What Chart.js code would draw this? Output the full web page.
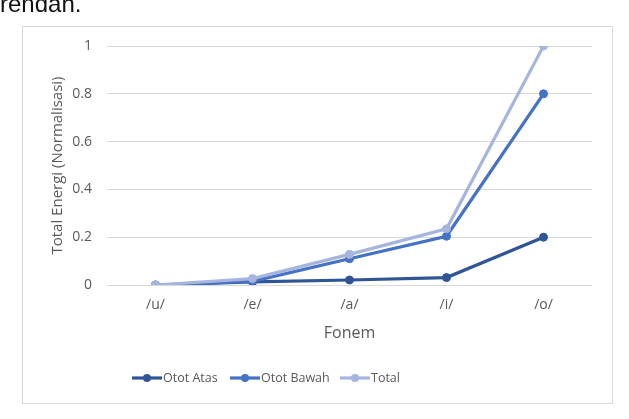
<!DOCTYPE html>
<html>
<head>
<meta charset="utf-8">
<script src="https://cdn.jsdelivr.net/npm/chart.js@4"></script>
<style>
  html, body { margin: 0; padding: 0; background: #fff; overflow: hidden; }
  #wrap { position: relative; width: 629px; height: 419px; }
  #lead { position: absolute; left: 0; top: -8px; font: 24px "Liberation Sans", Arial, sans-serif; line-height: 24px; color: #111; }
  canvas { position: absolute; left: 0; top: 0; }
</style>
</head>
<body>
<div id="wrap">
  <canvas id="c" width="629" height="419"></canvas>
  <div id="lead">rendah.</div>
</div>
<script>
(function() {
  var categories = ['/u/', '/e/', '/a/', '/i/', '/o/'];
  var ototAtas   = [0, 0.013, 0.021, 0.031, 0.2];
  var ototBawah  = [0, 0.015, 0.11, 0.204, 0.8];
  var total      = [0, 0.027, 0.128, 0.235, 1.0];
  var yTicks     = [0, 0.2, 0.4, 0.6, 0.8, 1];

  var colAtas = '#2F5597';
  var colBawah = '#4472C4';
  var colTotal = '#A5B5DE';
  var textColor = '#595959';
  var font = '"Open Sans", "Noto Sans", sans-serif';

  function series(label, data, color, order) {
    return {
      label: label,
      data: data,
      borderColor: color,
      backgroundColor: color,
      pointBackgroundColor: color,
      pointBorderColor: color,
      pointRadius: 4,
      pointBorderWidth: 1,
      borderWidth: 3.2,
      tension: 0,
      fill: false,
      order: order
    };
  }

  new Chart(document.getElementById('c'), {
    type: 'line',
    data: {
      labels: categories,
      datasets: [
        series('Otot Atas', ototAtas, colAtas, 2),
        series('Otot Bawah', ototBawah, colBawah, 1),
        series('Total', total, colTotal, 0)
      ]
    },
    options: {
      responsive: false,
      animation: false,
      layout: { padding: { top: 46, right: 37, bottom: 74, left: 22 } },
      plugins: {
        legend: { display: false },
        tooltip: { enabled: false }
      },
      scales: {
        x: {
          offset: true,
          grid: { display: false, drawTicks: false },
          border: { display: false },
          ticks: { color: textColor, font: { size: 14, family: font }, padding: 12, maxRotation: 0 },
          title: { display: true, text: 'Fonem', color: textColor, font: { size: 16, family: font }, padding: { top: 0, bottom: 2 } },
          afterFit: function(s) { s.height = 60; }
        },
        y: {
          min: 0,
          max: 1,
          afterBuildTicks: function(axis) {
            axis.ticks = yTicks.map(function(v) { return { value: v }; });
          },
          grid: { color: '#D9D9D9', lineWidth: 1, drawTicks: false },
          border: { display: false },
          ticks: {
            color: textColor, font: { size: 14, family: font }, padding: 15,
            callback: function(v) { return String(v); }
          },
          title: { display: true, text: 'Total Energi (Normalisasi)', color: textColor, font: { size: 15, family: font }, padding: { top: 27, bottom: 0 } },
          afterFit: function(s) { s.width = 85; }
        }
      }
    },
    plugins: [{
      id: 'frameAndLegend',
      beforeDraw: function(chart) {
        var c = chart.ctx;
        c.save();
        c.fillStyle = '#fff';
        c.fillRect(0, 0, chart.width, chart.height);
        c.strokeStyle = '#D9D9D9';
        c.lineWidth = 1;
        c.strokeRect(22.5, 26.5, 590, 377);
        c.restore();
      },
      afterDraw: function(chart) {
        var c = chart.ctx;
        var items = [
          { ds: 0, x: 132 },
          { ds: 1, x: 230 },
          { ds: 2, x: 340 }
        ];
        var y = 378;
        c.save();
        c.font = '12.5px ' + font;
        c.textBaseline = 'middle';
        items.forEach(function(it) {
          var d = chart.data.datasets[it.ds];
          c.strokeStyle = d.borderColor;
          c.lineWidth = 3.2;
          c.beginPath();
          c.moveTo(it.x, y);
          c.lineTo(it.x + 30, y);
          c.stroke();
          c.fillStyle = d.borderColor;
          c.beginPath();
          c.arc(it.x + 15, y, 4, 0, Math.PI * 2);
          c.fill();
          c.fillStyle = textColor;
          c.fillText(d.label, it.x + 31, y);
        });
        c.restore();
      }
    }]
  });
})();
</script>
</body>
</html>
